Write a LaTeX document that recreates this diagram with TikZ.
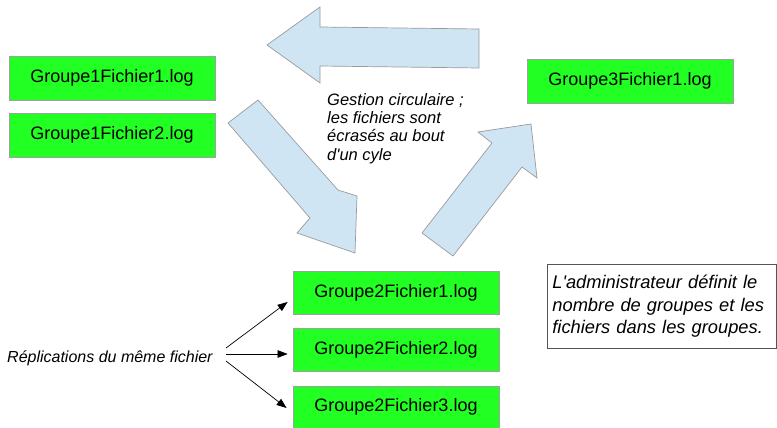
\documentclass[tikz,border=0pt]{standalone}
\usepackage{fontspec}
\setmainfont{Liberation Sans}
\usetikzlibrary{arrows.meta}
\definecolor{boxgreen}{HTML}{22FF22}
\definecolor{boxedge}{HTML}{A0A0A0}
\definecolor{blockblue}{HTML}{CFE5F4}
\definecolor{blockedge}{HTML}{9A9A9A}
\definecolor{noteedge}{HTML}{555555}
\tikzset{
  filebox/.style={draw=boxedge, fill=boxgreen, line width=0.8pt, minimum width=206pt, minimum height=44pt, inner sep=0pt, font=\fontsize{18}{21}\selectfont},
  blockarrow/.style={draw=blockedge, fill=blockblue, line width=0.7pt, line join=miter},
  rep/.style={draw=black, line width=0.7pt, -{Triangle[length=10pt,width=7.5pt]}},
}
\begin{document}
\begin{tikzpicture}[x=1pt,y=-1pt]
\useasboundingbox (0,0) rectangle (777,428);
% block arrows
\draw[blockarrow] (267,45) -- (320,7) -- (320,27) -- (479,29) -- (479,68) -- (320,66) -- (320,83) -- cycle;
\draw[blockarrow] (228,123) -- (258,100) -- (338,190) -- (357,196) -- (355,253) -- (297,233) -- (310,218) -- cycle;
\draw[blockarrow] (422,233) -- (453,256) -- (522,167) -- (537,178) -- (531,124) -- (478,132) -- (492,143) -- cycle;
% file boxes
\node[filebox] (g11) at (112,78) {Groupe1Fichier1.log};
\node[filebox] (g12) at (112,135) {Groupe1Fichier2.log};
\node[filebox] (g3) at (630,81) {Groupe3Fichier1.log};
\node[filebox, minimum height=43pt] (g21) at (396,292.5) {Groupe2Fichier1.log};
\node[filebox, minimum height=43pt] (g22) at (396,349.5) {Groupe2Fichier2.log};
\node[filebox, minimum height=42pt] (g23) at (396,407) {Groupe2Fichier3.log};
% texts
\node[anchor=north west, inner sep=0pt, align=left, font=\fontsize{16.5}{18.3}\selectfont\itshape] (gest) at (327,93)
  {Gestion circulaire ;\\les fichiers sont\\écrasés au bout\\d\textquotesingle un cyle};
\node[draw=noteedge, line width=0.8pt, anchor=north west, minimum width=229pt, minimum height=84pt, inner xsep=5pt, inner ysep=0pt, text width=219pt, align=left, font=\fontsize{18.3}{22.5}\selectfont\itshape] (note) at (547,264)
  {L\textquotesingle administrateur définit le\\nombre de groupes et les\\fichiers dans les groupes.};
\node[anchor=base west, inner sep=0pt, font=\fontsize{16}{19}\selectfont\itshape] (repl) at (7,362) {Réplications du même fichier};
% replication connectors
\coordinate (s1) at (226,348);
\coordinate (s2) at (226,354);
\coordinate (s3) at (226,361);
\draw[rep] (s1) -- ([xshift=-5pt,yshift=-9.5pt]g21.west);
\draw[rep] (s2) -- ([xshift=-5pt,yshift=-4.5pt]g22.west);
\draw[rep] (s3) -- ([xshift=-6pt,yshift=-1pt]g23.west);
\end{tikzpicture}
\end{document}
